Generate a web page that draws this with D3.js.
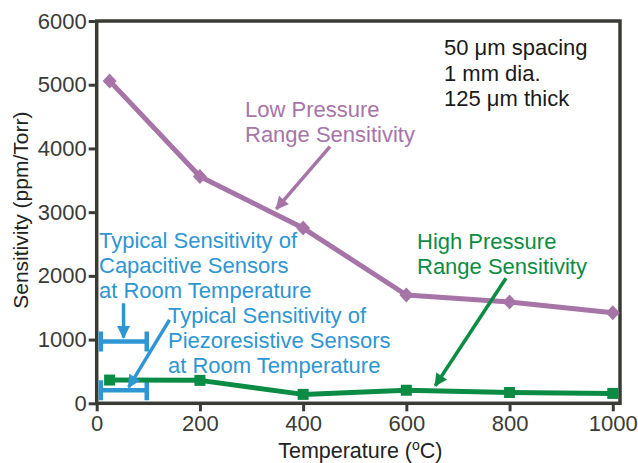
<!DOCTYPE html>
<html>
<head>
<meta charset="utf-8">
<script src="https://cdn.jsdelivr.net/npm/d3@7"></script>
<style>
  body { margin: 0; background: #fff; }
  text { font-family: "Liberation Sans", Arial, sans-serif; }
</style>
</head>
<body>
<div id="chart"></div>
<script>
// temperatures and sensitivities
let temps = [25, 200, 400, 600, 800, 1000];
let lowPressure = [5060, 3560, 2750, 1700, 1590, 1420];
let highPressure = [365, 360, 140, 205, 170, 155];

// room temperature ranges for the other sensor types
let capacitive = { x0: 8, x1: 97, y: 970 };
let piezo = { x0: 8, x1: 97, y: 205 };

let xTicks = [0, 200, 400, 600, 800, 1000];
let yTicks = [0, 1000, 2000, 3000, 4000, 5000, 6000];

// arrows: [fromX, fromY, toX, toY] in data units
let purpleArrow = [452, 4030, 348, 3050];
let capArrow = [52, 1570, 52, 1030];
let piezoArrow = [141, 1310, 62, 255];
let greenArrow = [793, 1962, 656, 275];

let purple = "#a774a8", green = "#0b8c44", blue = "#2e96d2", axisCol = "#3b3b36";

let W = 638, H = 463;
let svg = d3.select("#chart").append("svg")
    .attr("width", W)
    .attr("height", H);

let x = d3.scaleLinear().domain([0, 1014]).range([96.7, 620]);
let y = d3.scaleLinear().domain([0, 6000]).range([403.3, 21]);

// arrow heads
function addMarker(id, color) {
    svg.append("defs").append("marker")
        .attr("id", id)
        .attr("viewBox", "0 0 10 10")
        .attr("refX", 9)
        .attr("refY", 5)
        .attr("markerUnits", "userSpaceOnUse")
        .attr("markerWidth", 16)
        .attr("markerHeight", 13)
        .attr("orient", "auto")
      .append("path")
        .attr("d", "M0,0 L10,5 L0,10 Z")
        .attr("fill", color);
}
addMarker("ap", purple);
addMarker("ag", green);
addMarker("ab", blue);

// axes
let xAxis = svg.append("g")
    .attr("transform", "translate(0," + y(0) + ")")
    .call(d3.axisBottom(x).tickValues(xTicks).tickFormat(d3.format("d")).tickSize(8).tickPadding(4));
let yAxis = svg.append("g")
    .attr("transform", "translate(" + x(0) + ",0)")
    .call(d3.axisLeft(y).tickValues(yTicks).tickFormat(d3.format("d")).tickSize(8).tickPadding(2));
[xAxis, yAxis].forEach(function(a) {
    a.select(".domain").remove();
    a.selectAll("line").attr("stroke", axisCol).attr("stroke-width", 3);
    a.selectAll("text")
        .attr("fill", axisCol)
        .style("font-size", "22px")
        .style("font-family", "'Liberation Sans', Arial, sans-serif");
});

// frame
svg.append("rect")
    .attr("x", x(0))
    .attr("y", y(6000))
    .attr("width", x(1014) - x(0))
    .attr("height", y(0) - y(6000))
    .attr("fill", "none")
    .attr("stroke", axisCol)
    .attr("stroke-width", 3.5);

// axis titles
svg.append("text")
    .attr("x", (x(0) + x(1014)) / 2 + 2)
    .attr("y", 458)
    .attr("text-anchor", "middle")
    .attr("fill", "#222")
    .style("font-size", "21.5px")
    .html("Temperature (<tspan baseline-shift='super' font-size='14px'>o</tspan>C)");

svg.append("text")
    .attr("transform", "translate(28," + ((y(0) + y(6000)) / 2 - 2) + ") rotate(-90)")
    .attr("text-anchor", "middle")
    .attr("fill", "#222")
    .style("font-size", "21px")
    .text("Sensitivity (ppm/Torr)");

// error bars for other sensors
function drawRange(r) {
    let g = svg.append("g").attr("stroke", blue);
    g.append("line")
        .attr("x1", x(r.x0)).attr("x2", x(r.x1))
        .attr("y1", y(r.y)).attr("y2", y(r.y))
        .attr("stroke-width", 4.5);
    [r.x0, r.x1].forEach(function(v) {
        g.append("line")
            .attr("x1", x(v)).attr("x2", x(v))
            .attr("y1", y(r.y) - 10).attr("y2", y(r.y) + 10)
            .attr("stroke-width", 4.5);
    });
}
drawRange(capacitive);
drawRange(piezo);

// data lines
function drawSeries(vals, color, width) {
    let line = d3.line()
        .x(function(d, i) { return x(temps[i]); })
        .y(function(d) { return y(d); });
    svg.append("path")
        .datum(vals)
        .attr("fill", "none")
        .attr("stroke", color)
        .attr("stroke-width", width)
        .attr("stroke-linejoin", "round")
        .attr("d", line);
}
drawSeries(lowPressure, purple, 5);
drawSeries(highPressure, green, 5);

// diamond markers
svg.selectAll(".dia")
    .data(lowPressure)
    .enter().append("path")
    .attr("class", "dia")
    .attr("d", "M0,-7.5 L7,0 L0,7.5 L-7,0 Z")
    .attr("transform", function(d, i) { return "translate(" + x(temps[i]) + "," + y(d) + ")"; })
    .attr("fill", purple);

// square markers
svg.selectAll(".sq")
    .data(highPressure)
    .enter().append("rect")
    .attr("class", "sq")
    .attr("x", function(d, i) { return x(temps[i]) - 5.5; })
    .attr("y", function(d) { return y(d) - 5.5; })
    .attr("width", 11)
    .attr("height", 11)
    .attr("fill", green);

// arrows
function drawArrow(a, color, marker) {
    svg.append("line")
        .attr("x1", x(a[0])).attr("y1", y(a[1]))
        .attr("x2", x(a[2])).attr("y2", y(a[3]))
        .attr("stroke", color)
        .attr("stroke-width", 3.5)
        .attr("marker-end", "url(#" + marker + ")");
}
drawArrow(purpleArrow, purple, "ap");
drawArrow(greenArrow, green, "ag");
drawArrow(capArrow, blue, "ab");
drawArrow(piezoArrow, blue, "ab");

// text blocks
function drawLines(lines, px, py, color, lh) {
    let t = svg.append("text")
        .attr("fill", color)
        .style("font-size", "22px");
    lines.forEach(function(s, i) {
        t.append("tspan")
            .attr("x", px)
            .attr("y", py + i * lh)
            .text(s);
    });
}
drawLines(["50 \u03bcm spacing", "1 mm dia.", "125 \u03bcm thick"], 444, 55, "#1a1a1a", 25.7);
drawLines(["Low Pressure", "Range Sensitivity"], 245, 116.7, purple, 25);
drawLines(["High Pressure", "Range Sensitivity"], 417, 249.3, green, 24.5);
drawLines(["Typical Sensitivity of", "Capacitive Sensors", "at Room Temperature"], 99, 248.3, blue, 25);
drawLines(["Typical Sensitivity of", "Piezoresistive Sensors", "at Room Temperature"], 168, 323.3, blue, 25);
</script>
</body>
</html>
